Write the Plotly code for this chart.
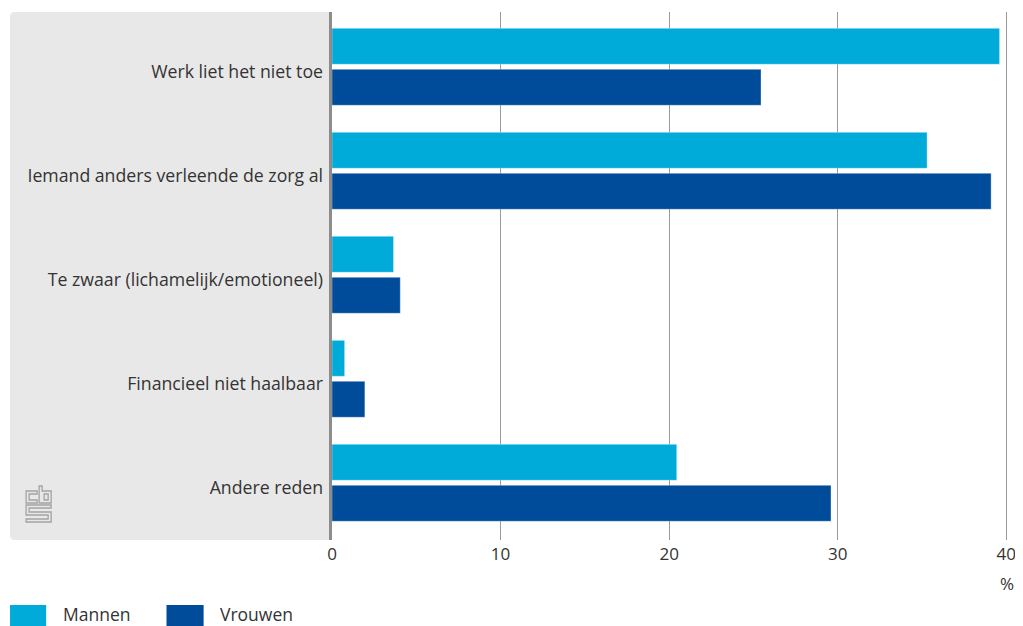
import plotly.graph_objects as go

categories = ["Werk liet het niet toe", "Iemand anders verleende de zorg al",
              "Te zwaar (lichamelijk/emotioneel)", "Financieel niet haalbaar", "Andere reden"]
mannen = [39.6, 35.3, 3.65, 0.75, 20.45]
vrouwen = [25.45, 39.1, 4.05, 1.95, 29.6]
series_names = ["Mannen", "Vrouwen"]
x_ticks = [0, 10, 20, 30, 40]

C_M = "#00abd9"
C_V = "#004c9b"
FONT = "Open Sans"
TXT = "#333333"

OFF = 8  # page body margin
SX = 1 / 0.997  # small horizontal correction


def sx(x):
    return 330 + (x - 330) * SX


W, H = 1015, 618
L, T = round(sx(332)) - OFF, 12 - OFF
PW = round((sx(1004.3) - sx(332.3)) * 40.1 / 40)
PH = 528
R = W - L - PW
B = H - T - PH


def px(x):
    # x in reference screen pixels -> paper
    return (sx(x) - OFF - L) / PW


def py(y):
    # y in reference screen pixels -> paper
    return (T + PH - (y - OFF)) / PH


fig = go.Figure()
fig.add_trace(go.Bar(y=categories, x=mannen, name=series_names[0], orientation="h",
                     marker=dict(color=C_M, line=dict(color="rgba(255,255,255,0.35)", width=1))))
fig.add_trace(go.Bar(y=categories, x=vrouwen, name=series_names[1], orientation="h",
                     marker=dict(color=C_V, line=dict(color="rgba(255,255,255,0.35)", width=1))))

shapes = []
# grey label panel with rounded left corners
x0, x1, y0, y1, r = px(11), px(331), py(12), py(540), 5
rx, ry = r / PW, r / PH
shapes.append(dict(type="path", xref="paper", yref="paper", layer="below",
                   path=(f"M {x1},{y0} L {x0+rx},{y0} Q {x0},{y0} {x0},{y0-ry} "
                         f"L {x0},{y1+ry} Q {x0},{y1} {x0+rx},{y1} L {x1},{y1} Z"),
                   fillcolor="#e8e8e8", line=dict(width=0)))
# zero axis line
shapes.append(dict(type="line", xref="paper", yref="paper", x0=px(330.5), x1=px(330.5),
                   y0=py(12), y1=py(540), line=dict(color="#8c8c8c", width=3), layer="above"))


def logo_path(pts):
    s = "M " + " L ".join(f"{px(a)},{py(b)}" for a, b in pts) + " Z"
    return dict(type="path", xref="paper", yref="paper", path=s,
                line=dict(color="#a3a3a3", width=1.3), fillcolor="rgba(0,0,0,0)")


shapes.append(logo_path([(38, 491), (27, 491), (27, 503), (38, 503), (38, 500), (30, 500), (30, 494), (38, 494)]))
shapes.append(logo_path([(40, 486), (43, 486), (43, 491), (52, 491), (52, 503), (40, 503)]))
shapes.append(logo_path([(45, 494), (49, 494), (49, 500), (45, 500)]))
shapes.append(logo_path([(27, 505), (52, 505), (52, 508), (30, 508), (30, 512), (52, 512), (52, 522),
                         (27, 522), (27, 519), (49, 519), (49, 515), (27, 515)]))

# legend swatches
for (a, b), c in zip([(11, 47), (167, 204)], [C_M, C_V]):
    shapes.append(dict(type="rect", xref="paper", yref="paper", x0=px(a), x1=px(b),
                       y0=py(605), y1=py(640), fillcolor=c, line=dict(width=0)))

annotations = [
    dict(text=series_names[0], x=px(62), y=py(614), xref="paper", yref="paper",
         xanchor="left", yanchor="middle", showarrow=False, font=dict(size=17.5, color=TXT, family=FONT)),
    dict(text=series_names[1], x=px(218), y=py(614), xref="paper", yref="paper",
         xanchor="left", yanchor="middle", showarrow=False, font=dict(size=17.5, color=TXT, family=FONT)),
    dict(text="%", x=px(1005), y=py(583), xref="paper", yref="paper",
         xanchor="center", yanchor="middle", showarrow=False, font=dict(size=17, color=TXT, family=FONT)),
]

fig.update_layout(
    width=W, height=H, margin=dict(l=L, r=R, t=T, b=B, pad=0),
    paper_bgcolor="white", plot_bgcolor="rgba(0,0,0,0)",
    barmode="group", bargap=0.212, bargroupgap=0.122,
    showlegend=False, shapes=shapes, annotations=annotations,
    font=dict(family=FONT, color=TXT, size=17),
    xaxis=dict(range=[0, 40.1], tickvals=x_ticks, showgrid=True, gridcolor="#999999", gridwidth=1,
               zeroline=False, showline=False, ticks="", ticklabelstandoff=2,
               tickfont=dict(size=17, color=TXT, family=FONT)),
    yaxis=dict(range=[4.55, -0.527], showgrid=False, zeroline=False, showline=False, ticks="",
               ticklabelstandoff=8, ticklabelshift=-5, tickfont=dict(size=17.7, color=TXT, family=FONT)),
)

fig.write_html("out.html")
